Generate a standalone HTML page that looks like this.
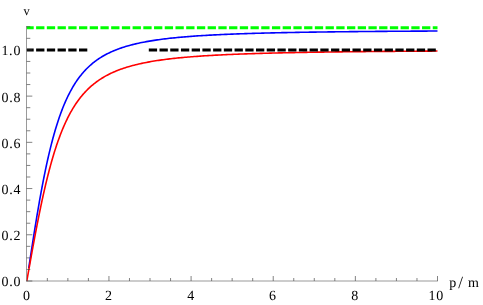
<!DOCTYPE html>
<html><head><meta charset="utf-8"><title>v vs p/m</title>
<style>html,body{margin:0;padding:0;background:#fff;}svg{display:block;}g.t{will-change:transform;filter:grayscale(1);}text{font-family:"Liberation Serif",serif;font-size:14px;fill:#000;letter-spacing:0.8px;text-rendering:geometricPrecision;}</style></head><body>
<svg width="483" height="305" viewBox="0 0 483 305">
<rect x="0" y="0" width="483" height="305" fill="#ffffff"/>
<defs><clipPath id="cb"><rect x="26.5" y="20" width="420" height="248"/></clipPath><clipPath id="cr"><rect x="26.5" y="20" width="420" height="262"/></clipPath></defs>
<path d="M26.80 281.00 L26.80 280.98 L26.81 280.93 L26.82 280.85 L26.84 280.73 L26.86 280.57 L26.89 280.39 L26.93 280.16 L26.96 279.91 L27.01 279.62 L27.06 279.30 L27.11 278.94 L27.17 278.55 L27.23 278.12 L27.30 277.66 L27.38 277.17 L27.46 276.64 L27.54 276.08 L27.63 275.48 L27.73 274.85 L27.83 274.19 L27.93 273.49 L28.04 272.76 L28.16 271.99 L28.28 271.19 L28.40 270.36 L28.54 269.49 L28.67 268.59 L28.81 267.66 L28.96 266.69 L29.11 265.69 L29.27 264.66 L29.43 263.59 L29.60 262.49 L29.77 261.36 L29.94 260.19 L30.13 259.00 L30.31 257.77 L30.51 256.51 L30.70 255.21 L30.91 253.89 L31.11 252.53 L31.33 251.15 L31.55 249.73 L31.77 248.28 L32.00 246.81 L32.23 245.30 L32.47 243.77 L32.71 242.20 L32.96 240.61 L33.22 238.99 L33.48 237.34 L33.74 235.67 L34.01 233.97 L34.29 232.25 L34.56 230.50 L34.85 228.72 L35.14 226.93 L35.43 225.10 L35.74 223.26 L36.04 221.40 L36.35 219.51 L36.67 217.61 L36.99 215.68 L37.31 213.74 L37.65 211.78 L37.98 209.81 L38.32 207.81 L38.67 205.81 L39.02 203.79 L39.38 201.76 L39.74 199.71 L40.11 197.66 L40.48 195.59 L40.86 193.52 L41.24 191.44 L41.63 189.35 L42.02 187.26 L42.42 185.16 L42.82 183.06 L43.23 180.96 L43.64 178.85 L44.06 176.75 L44.48 174.64 L44.91 172.54 L45.35 170.44 L45.78 168.35 L46.23 166.26 L46.68 164.18 L47.13 162.10 L47.59 160.03 L48.06 157.97 L48.53 155.92 L49.00 153.88 L49.48 151.86 L49.97 149.84 L50.46 147.84 L50.95 145.86 L51.45 143.89 L51.96 141.93 L52.47 139.99 L52.98 138.07 L53.51 136.17 L54.03 134.28 L54.56 132.41 L55.10 130.57 L55.64 128.74 L56.19 126.94 L56.74 125.15 L57.30 123.39 L57.86 121.65 L58.43 119.93 L59.00 118.23 L59.58 116.56 L60.16 114.91 L60.75 113.28 L61.34 111.68 L61.94 110.10 L62.54 108.55 L63.15 107.01 L63.76 105.51 L64.38 104.02 L65.01 102.56 L65.63 101.13 L66.27 99.72 L66.91 98.33 L67.55 96.97 L68.20 95.63 L68.86 94.31 L69.52 93.02 L70.18 91.75 L70.85 90.51 L71.53 89.28 L72.21 88.08 L72.89 86.91 L73.58 85.75 L74.28 84.62 L74.98 83.51 L75.68 82.42 L76.39 81.36 L77.11 80.31 L77.83 79.29 L78.56 78.28 L79.29 77.30 L80.03 76.34 L80.77 75.39 L81.52 74.47 L82.27 73.57 L83.02 72.68 L83.79 71.81 L84.55 70.96 L85.33 70.13 L86.11 69.32 L86.89 68.52 L87.68 67.74 L88.47 66.98 L89.27 66.23 L90.07 65.50 L90.88 64.79 L91.69 64.09 L92.51 63.41 L93.34 62.74 L94.17 62.08 L95.00 61.44 L95.84 60.82 L96.68 60.20 L97.53 59.60 L98.39 59.02 L99.25 58.44 L100.11 57.88 L100.98 57.33 L101.86 56.80 L102.74 56.27 L103.62 55.76 L104.51 55.26 L105.41 54.77 L106.31 54.29 L107.22 53.82 L108.13 53.36 L109.05 52.91 L109.97 52.47 L110.89 52.04 L111.83 51.62 L112.76 51.21 L113.70 50.80 L114.65 50.41 L115.60 50.02 L116.56 49.65 L117.52 49.28 L118.49 48.92 L119.46 48.56 L120.44 48.22 L121.43 47.88 L122.41 47.55 L123.41 47.23 L124.41 46.91 L125.41 46.60 L126.42 46.30 L127.43 46.00 L128.45 45.71 L129.47 45.42 L131.02 45.01 L132.56 44.61 L134.10 44.23 L135.64 43.86 L137.18 43.51 L138.72 43.17 L140.26 42.84 L141.80 42.52 L143.34 42.21 L144.88 41.92 L146.42 41.63 L147.96 41.36 L149.50 41.09 L151.04 40.84 L152.58 40.59 L154.12 40.35 L155.66 40.12 L157.20 39.89 L158.74 39.67 L160.28 39.46 L161.82 39.26 L163.36 39.06 L164.90 38.87 L166.44 38.69 L167.98 38.51 L169.52 38.33 L171.06 38.16 L172.60 38.00 L174.14 37.84 L175.68 37.68 L177.22 37.53 L178.76 37.39 L180.30 37.25 L181.84 37.11 L183.38 36.97 L184.92 36.84 L186.46 36.72 L188.00 36.59 L189.54 36.47 L191.08 36.36 L192.62 36.24 L194.16 36.13 L195.70 36.02 L197.24 35.92 L198.78 35.82 L200.32 35.72 L201.86 35.62 L203.40 35.52 L204.94 35.43 L206.48 35.34 L208.02 35.25 L209.56 35.17 L211.10 35.08 L212.64 35.00 L214.18 34.92 L215.72 34.84 L217.26 34.77 L218.80 34.69 L220.34 34.62 L221.88 34.55 L223.42 34.48 L224.96 34.41 L226.50 34.34 L228.04 34.28 L229.58 34.21 L231.12 34.15 L232.66 34.09 L234.20 34.03 L235.74 33.97 L237.28 33.92 L238.82 33.86 L240.36 33.80 L241.90 33.75 L243.44 33.70 L244.98 33.65 L246.52 33.60 L248.06 33.55 L249.60 33.50 L251.14 33.45 L252.68 33.41 L254.23 33.36 L255.77 33.32 L257.31 33.27 L258.85 33.23 L260.39 33.19 L261.93 33.15 L263.47 33.10 L265.01 33.06 L266.55 33.03 L268.09 32.99 L269.63 32.95 L271.17 32.91 L272.71 32.88 L274.25 32.84 L275.79 32.81 L277.33 32.77 L278.87 32.74 L280.41 32.71 L281.95 32.67 L283.49 32.64 L285.03 32.61 L286.57 32.58 L288.11 32.55 L289.65 32.52 L291.19 32.49 L292.73 32.46 L294.27 32.43 L295.81 32.40 L297.35 32.38 L298.89 32.35 L300.43 32.32 L301.97 32.30 L303.51 32.27 L305.05 32.25 L306.59 32.22 L308.13 32.20 L309.67 32.17 L311.21 32.15 L312.75 32.13 L314.29 32.10 L315.83 32.08 L317.37 32.06 L318.91 32.04 L320.45 32.02 L321.99 32.00 L323.53 31.97 L325.07 31.95 L326.61 31.93 L328.15 31.91 L329.69 31.89 L331.23 31.88 L332.77 31.86 L334.31 31.84 L335.85 31.82 L337.39 31.80 L338.93 31.78 L340.47 31.77 L342.01 31.75 L343.55 31.73 L345.09 31.71 L346.63 31.70 L348.17 31.68 L349.71 31.66 L351.25 31.65 L352.79 31.63 L354.33 31.62 L355.87 31.60 L357.41 31.59 L358.95 31.57 L360.49 31.56 L362.03 31.54 L363.57 31.53 L365.11 31.51 L366.65 31.50 L368.19 31.49 L369.73 31.47 L371.27 31.46 L372.81 31.45 L374.35 31.43 L375.90 31.42 L377.44 31.41 L378.98 31.40 L380.52 31.38 L382.06 31.37 L383.60 31.36 L385.14 31.35 L386.68 31.34 L388.22 31.32 L389.76 31.31 L391.30 31.30 L392.84 31.29 L394.38 31.28 L395.92 31.27 L397.46 31.26 L399.00 31.25 L400.54 31.24 L402.08 31.23 L403.62 31.22 L405.16 31.21 L406.70 31.20 L408.24 31.19 L409.78 31.18 L411.32 31.17 L412.86 31.16 L414.40 31.15 L415.94 31.14 L417.48 31.13 L419.02 31.12 L420.56 31.11 L422.10 31.10 L423.64 31.09 L425.18 31.08 L426.72 31.08 L428.26 31.07 L429.80 31.06 L431.34 31.05 L432.88 31.04 L434.42 31.03 L435.96 31.03 L437.50 31.02" fill="none" stroke="#0000ff" stroke-width="1.6" stroke-linejoin="round" clip-path="url(#cb)"/>
<path d="M26.80 281.00 L26.80 280.99 L26.81 280.94 L26.82 280.87 L26.84 280.77 L26.86 280.64 L26.89 280.48 L26.93 280.29 L26.96 280.08 L27.01 279.83 L27.06 279.56 L27.11 279.25 L27.17 278.92 L27.23 278.56 L27.30 278.17 L27.38 277.75 L27.46 277.30 L27.54 276.83 L27.63 276.32 L27.73 275.79 L27.83 275.22 L27.93 274.63 L28.04 274.01 L28.16 273.36 L28.28 272.69 L28.40 271.98 L28.54 271.24 L28.67 270.48 L28.81 269.69 L28.96 268.87 L29.11 268.02 L29.27 267.14 L29.43 266.24 L29.60 265.31 L29.77 264.35 L29.94 263.36 L30.13 262.34 L30.31 261.30 L30.51 260.23 L30.70 259.13 L30.91 258.00 L31.11 256.85 L31.33 255.67 L31.55 254.47 L31.77 253.24 L32.00 251.98 L32.23 250.70 L32.47 249.39 L32.71 248.06 L32.96 246.70 L33.22 245.32 L33.48 243.92 L33.74 242.49 L34.01 241.04 L34.29 239.56 L34.56 238.07 L34.85 236.55 L35.14 235.01 L35.43 233.45 L35.74 231.87 L36.04 230.27 L36.35 228.65 L36.67 227.01 L36.99 225.36 L37.31 223.69 L37.65 222.00 L37.98 220.29 L38.32 218.57 L38.67 216.84 L39.02 215.09 L39.38 213.33 L39.74 211.55 L40.11 209.77 L40.48 207.97 L40.86 206.17 L41.24 204.35 L41.63 202.53 L42.02 200.70 L42.42 198.86 L42.82 197.02 L43.23 195.17 L43.64 193.32 L44.06 191.47 L44.48 189.61 L44.91 187.75 L45.35 185.89 L45.78 184.03 L46.23 182.18 L46.68 180.32 L47.13 178.47 L47.59 176.62 L48.06 174.78 L48.53 172.94 L49.00 171.10 L49.48 169.28 L49.97 167.46 L50.46 165.65 L50.95 163.85 L51.45 162.06 L51.96 160.28 L52.47 158.52 L52.98 156.76 L53.51 155.02 L54.03 153.29 L54.56 151.57 L55.10 149.87 L55.64 148.19 L56.19 146.52 L56.74 144.86 L57.30 143.22 L57.86 141.60 L58.43 140.00 L59.00 138.41 L59.58 136.85 L60.16 135.30 L60.75 133.77 L61.34 132.25 L61.94 130.76 L62.54 129.29 L63.15 127.84 L63.76 126.40 L64.38 124.99 L65.01 123.60 L65.63 122.22 L66.27 120.87 L66.91 119.54 L67.55 118.22 L68.20 116.93 L68.86 115.66 L69.52 114.41 L70.18 113.18 L70.85 111.97 L71.53 110.78 L72.21 109.61 L72.89 108.46 L73.58 107.33 L74.28 106.22 L74.98 105.13 L75.68 104.06 L76.39 103.01 L77.11 101.98 L77.83 100.96 L78.56 99.97 L79.29 98.99 L80.03 98.03 L80.77 97.10 L81.52 96.17 L82.27 95.27 L83.02 94.38 L83.79 93.52 L84.55 92.66 L85.33 91.83 L86.11 91.01 L86.89 90.21 L87.68 89.42 L88.47 88.65 L89.27 87.90 L90.07 87.16 L90.88 86.43 L91.69 85.72 L92.51 85.03 L93.34 84.35 L94.17 83.68 L95.00 83.03 L95.84 82.39 L96.68 81.76 L97.53 81.15 L98.39 80.55 L99.25 79.96 L100.11 79.38 L100.98 78.82 L101.86 78.27 L102.74 77.72 L103.62 77.20 L104.51 76.68 L105.41 76.17 L106.31 75.67 L107.22 75.19 L108.13 74.71 L109.05 74.24 L109.97 73.79 L110.89 73.34 L111.83 72.90 L112.76 72.48 L113.70 72.06 L114.65 71.65 L115.60 71.25 L116.56 70.85 L117.52 70.47 L118.49 70.09 L119.46 69.72 L120.44 69.36 L121.43 69.01 L122.41 68.66 L123.41 68.32 L124.41 67.99 L125.41 67.66 L126.42 67.35 L127.43 67.03 L128.45 66.73 L129.47 66.43 L131.02 65.99 L132.56 65.57 L134.10 65.17 L135.64 64.78 L137.18 64.41 L138.72 64.05 L140.26 63.70 L141.80 63.36 L143.34 63.04 L144.88 62.73 L146.42 62.42 L147.96 62.13 L149.50 61.85 L151.04 61.58 L152.58 61.32 L154.12 61.06 L155.66 60.81 L157.20 60.57 L158.74 60.34 L160.28 60.12 L161.82 59.90 L163.36 59.69 L164.90 59.49 L166.44 59.29 L167.98 59.10 L169.52 58.91 L171.06 58.73 L172.60 58.56 L174.14 58.39 L175.68 58.22 L177.22 58.06 L178.76 57.90 L180.30 57.75 L181.84 57.61 L183.38 57.46 L184.92 57.32 L186.46 57.19 L188.00 57.05 L189.54 56.93 L191.08 56.80 L192.62 56.68 L194.16 56.56 L195.70 56.44 L197.24 56.33 L198.78 56.22 L200.32 56.11 L201.86 56.01 L203.40 55.91 L204.94 55.81 L206.48 55.71 L208.02 55.62 L209.56 55.52 L211.10 55.43 L212.64 55.34 L214.18 55.26 L215.72 55.17 L217.26 55.09 L218.80 55.01 L220.34 54.93 L221.88 54.86 L223.42 54.78 L224.96 54.71 L226.50 54.64 L228.04 54.57 L229.58 54.50 L231.12 54.43 L232.66 54.37 L234.20 54.30 L235.74 54.24 L237.28 54.18 L238.82 54.12 L240.36 54.06 L241.90 54.00 L243.44 53.94 L244.98 53.89 L246.52 53.83 L248.06 53.78 L249.60 53.73 L251.14 53.68 L252.68 53.63 L254.23 53.58 L255.77 53.53 L257.31 53.48 L258.85 53.44 L260.39 53.39 L261.93 53.35 L263.47 53.30 L265.01 53.26 L266.55 53.22 L268.09 53.18 L269.63 53.14 L271.17 53.10 L272.71 53.06 L274.25 53.02 L275.79 52.98 L277.33 52.94 L278.87 52.91 L280.41 52.87 L281.95 52.84 L283.49 52.80 L285.03 52.77 L286.57 52.74 L288.11 52.70 L289.65 52.67 L291.19 52.64 L292.73 52.61 L294.27 52.58 L295.81 52.55 L297.35 52.52 L298.89 52.49 L300.43 52.46 L301.97 52.43 L303.51 52.40 L305.05 52.38 L306.59 52.35 L308.13 52.32 L309.67 52.30 L311.21 52.27 L312.75 52.25 L314.29 52.22 L315.83 52.20 L317.37 52.17 L318.91 52.15 L320.45 52.13 L321.99 52.10 L323.53 52.08 L325.07 52.06 L326.61 52.04 L328.15 52.02 L329.69 52.00 L331.23 51.97 L332.77 51.95 L334.31 51.93 L335.85 51.91 L337.39 51.89 L338.93 51.87 L340.47 51.86 L342.01 51.84 L343.55 51.82 L345.09 51.80 L346.63 51.78 L348.17 51.76 L349.71 51.75 L351.25 51.73 L352.79 51.71 L354.33 51.70 L355.87 51.68 L357.41 51.66 L358.95 51.65 L360.49 51.63 L362.03 51.62 L363.57 51.60 L365.11 51.58 L366.65 51.57 L368.19 51.55 L369.73 51.54 L371.27 51.53 L372.81 51.51 L374.35 51.50 L375.90 51.48 L377.44 51.47 L378.98 51.46 L380.52 51.44 L382.06 51.43 L383.60 51.42 L385.14 51.40 L386.68 51.39 L388.22 51.38 L389.76 51.37 L391.30 51.35 L392.84 51.34 L394.38 51.33 L395.92 51.32 L397.46 51.31 L399.00 51.29 L400.54 51.28 L402.08 51.27 L403.62 51.26 L405.16 51.25 L406.70 51.24 L408.24 51.23 L409.78 51.22 L411.32 51.21 L412.86 51.20 L414.40 51.19 L415.94 51.18 L417.48 51.17 L419.02 51.16 L420.56 51.15 L422.10 51.14 L423.64 51.13 L425.18 51.12 L426.72 51.11 L428.26 51.10 L429.80 51.09 L431.34 51.08 L432.88 51.07 L434.42 51.06 L435.96 51.06 L437.50 51.05" fill="none" stroke="#ff0000" stroke-width="1.6" stroke-linejoin="round" clip-path="url(#cr)"/>
<path d="M26.80 49.90 H88.41" stroke="#000000" stroke-width="3" stroke-dasharray="8.3 2.42" stroke-dashoffset="1.4" fill="none"/>
<path d="M148.80 49.90 H437.50" stroke="#000000" stroke-width="3" stroke-dasharray="8.3 2.42" fill="none"/>
<path d="M26.80 27.85 H437.50" stroke="#00ff00" stroke-width="3" stroke-dasharray="8.3 2.42" stroke-dashoffset="1.4" fill="none"/>
<path d="M47.34 281.00v-3.00M67.87 281.00v-3.00M88.41 281.00v-3.00M108.94 281.00v-5.00M129.47 281.00v-3.00M150.01 281.00v-3.00M170.55 281.00v-3.00M191.08 281.00v-5.00M211.62 281.00v-3.00M232.15 281.00v-3.00M252.69 281.00v-3.00M273.22 281.00v-5.00M293.75 281.00v-3.00M314.29 281.00v-3.00M334.82 281.00v-3.00M355.36 281.00v-5.00M375.90 281.00v-3.00M396.43 281.00v-3.00M416.97 281.00v-3.00M437.50 281.00v-5.00M26.50 281.00h5.80M26.50 269.44h3.80M26.50 257.89h3.80M26.50 246.33h3.80M26.50 234.78h5.80M26.50 223.22h3.80M26.50 211.67h3.80M26.50 200.12h3.80M26.50 188.56h5.80M26.50 177.00h3.80M26.50 165.45h3.80M26.50 153.89h3.80M26.50 142.34h5.80M26.50 130.78h3.80M26.50 119.23h3.80M26.50 107.68h3.80M26.50 96.12h5.80M26.50 84.56h3.80M26.50 73.01h3.80M26.50 61.45h3.80M26.50 49.90h5.80M26.50 38.34h3.80M26.50 26.79h3.80" stroke="#404040" stroke-width="0.65" fill="none"/>
<path d="M26.50 26.00 V281.30" stroke="#555555" stroke-width="0.6" fill="none"/>
<path d="M26.20 281.00 H437.90" stroke="#555555" stroke-width="0.6" fill="none"/>
<g class="t">
<text x="21.30" y="286.40" text-anchor="end">0.0</text>
<text x="21.30" y="240.18" text-anchor="end">0.2</text>
<text x="21.30" y="193.96" text-anchor="end">0.4</text>
<text x="21.30" y="147.74" text-anchor="end">0.6</text>
<text x="21.30" y="101.52" text-anchor="end">0.8</text>
<text x="1.6 9.1 13.45" y="55.30">1.0</text>
<text x="26.80" y="300.20" text-anchor="middle">0</text>
<text x="109.00" y="300.20" text-anchor="middle">2</text>
<text x="191.10" y="300.20" text-anchor="middle">4</text>
<text x="273.00" y="300.20" text-anchor="middle">6</text>
<text x="355.10" y="300.20" text-anchor="middle">8</text>
<text x="436.20" y="300.20" text-anchor="middle">10</text>
<text x="23.4" y="15.0" style="font-size:12.4px">v</text>
<text y="287.2" style="letter-spacing:0"><tspan x="449.3">p</tspan><tspan x="454.2"> </tspan><tspan x="458.2" y="288.45" style="font-size:17px">/</tspan><tspan x="464.5" y="287.2"> </tspan><tspan x="468.1" y="287.2">m</tspan></text>
</g>
</svg></body></html>
